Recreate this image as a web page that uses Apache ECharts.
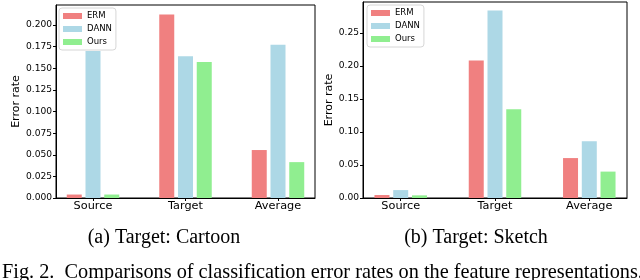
<!DOCTYPE html>
<html>
<head>
<meta charset="utf-8">
<script src="https://cdn.jsdelivr.net/npm/echarts@6/dist/echarts.min.js"></script>
<style>
html,body{margin:0;padding:0;background:#fff;}
#chart{width:640px;height:280px;}
</style>
</head>
<body>
<div id="chart"></div>
<script>
// Data
const categories = ['Source', 'Target', 'Average'];
const seriesNames = ['ERM', 'DANN', 'Ours'];
// (a) Target: Cartoon
const cartoonERM  = [0.004, 0.2124, 0.0555];
const cartoonDANN = [0.170, 0.1640, 0.1772];
const cartoonOurs = [0.004, 0.1574, 0.0415];
// (b) Target: Sketch
const sketchERM  = [0.0045, 0.2085, 0.0605];
const sketchDANN = [0.0120, 0.2840, 0.0860];
const sketchOurs = [0.0040, 0.1345, 0.0400];
// tick labels
const yTicksA = [0, 0.025, 0.05, 0.075, 0.1, 0.125, 0.15, 0.175, 0.2];
const yTicksB = [0, 0.05, 0.1, 0.15, 0.2, 0.25];
const xTicks = [0, 1, 2];
const captionA = '(a) Target: Cartoon';
const captionB = '(b) Target: Sketch';
const figCaption = 'Fig. 2.  Comparisons of classification error rates on the feature representations.';

const colors = ['#F08080', '#ADD8E6', '#90EE90'];
const sans = 'DejaVu Sans';

function xAxisCfg(gi) {
  return {
    type: 'value', gridIndex: gi, min: -0.4, max: 2.4,
    axisLine: { show: true, onZero: false, lineStyle: { color: '#000', width: 1 } },
    axisTick: { show: true, length: 3, customValues: xTicks, lineStyle: { color: '#000' } },
    axisLabel: {
      customValues: xTicks, margin: 3,
      formatter: v => categories[Math.round(v)],
      fontFamily: sans, fontSize: 11.3, color: '#000'
    },
    splitLine: { show: false }
  };
}
function yAxisCfg(gi, max, ticks, digits, gap) {
  return {
    type: 'value', gridIndex: gi, min: 0, max: max,
    name: 'Error rate', nameLocation: 'middle', nameGap: gap,
    nameTextStyle: { fontFamily: sans, fontSize: 11, color: '#000' },
    axisLine: { show: true, onZero: false, lineStyle: { color: '#000', width: 1 } },
    axisTick: { show: true, length: 3, customValues: ticks, lineStyle: { color: '#000' } },
    axisLabel: {
      customValues: ticks, margin: 4,
      formatter: v => v.toFixed(digits),
      fontFamily: sans, fontSize: 9.1, color: '#000'
    },
    splitLine: { show: false }
  };
}
function barSeries(name, vals, gi, ci) {
  return {
    type: 'bar', name: name, xAxisIndex: gi, yAxisIndex: gi,
    data: vals.map((v, i) => [i, v]),
    barWidth: 15, barGap: '25%',
    itemStyle: { color: colors[ci] },
    emphasis: { disabled: true }
  };
}
function legendCfg(left, top) {
  return {
    data: seriesNames, orient: 'vertical', left: left, top: top,
    icon: 'rect', itemWidth: 19, itemHeight: 6, itemGap: 3,
    padding: [3, 4, 3, 4],
    borderColor: '#d6d6d6', borderWidth: 1, borderRadius: 3,
    backgroundColor: 'rgba(255,255,255,0.8)',
    textStyle: { fontFamily: sans, fontSize: 8.5, color: '#000', lineHeight: 10 },
    selectedMode: false
  };
}

const chart = echarts.init(document.getElementById('chart'), null, { renderer: 'canvas' });
chart.setOption({
  animation: false,
  grid: [
    { left: 56, right: 325, top: 5, bottom: 82, show: true, borderColor: '#000', borderWidth: 1, containLabel: false },
    { left: 363, right: 13, top: 2, bottom: 82, show: true, borderColor: '#000', borderWidth: 1, containLabel: false }
  ],
  xAxis: [xAxisCfg(0), xAxisCfg(1)],
  yAxis: [yAxisCfg(0, 0.2233, yTicksA, 3, 26), yAxisCfg(1, 0.297, yTicksB, 2, 20)],
  legend: [legendCfg(59, 8), legendCfg(367, 5)],
  series: [
    barSeries('ERM', cartoonERM, 0, 0),
    barSeries('DANN', cartoonDANN, 0, 1),
    barSeries('Ours', cartoonOurs, 0, 2),
    barSeries('ERM', sketchERM, 1, 0),
    barSeries('DANN', sketchDANN, 1, 1),
    barSeries('Ours', sketchOurs, 1, 2)
  ],
  graphic: [
    { type: 'text', x: 164, y: 238, style: { text: captionA, font: '20px "Liberation Serif"', fill: '#000', textAlign: 'center', textVerticalAlign: 'middle' } },
    { type: 'text', x: 476, y: 238, style: { text: captionB, font: '20px "Liberation Serif"', fill: '#000', textAlign: 'center', textVerticalAlign: 'middle' } },
    { type: 'text', x: 2, y: 273, style: { text: figCaption, font: '20.3px "Liberation Serif"', fill: '#000', textAlign: 'left', textVerticalAlign: 'middle' } }
  ]
});
</script>
</body>
</html>
